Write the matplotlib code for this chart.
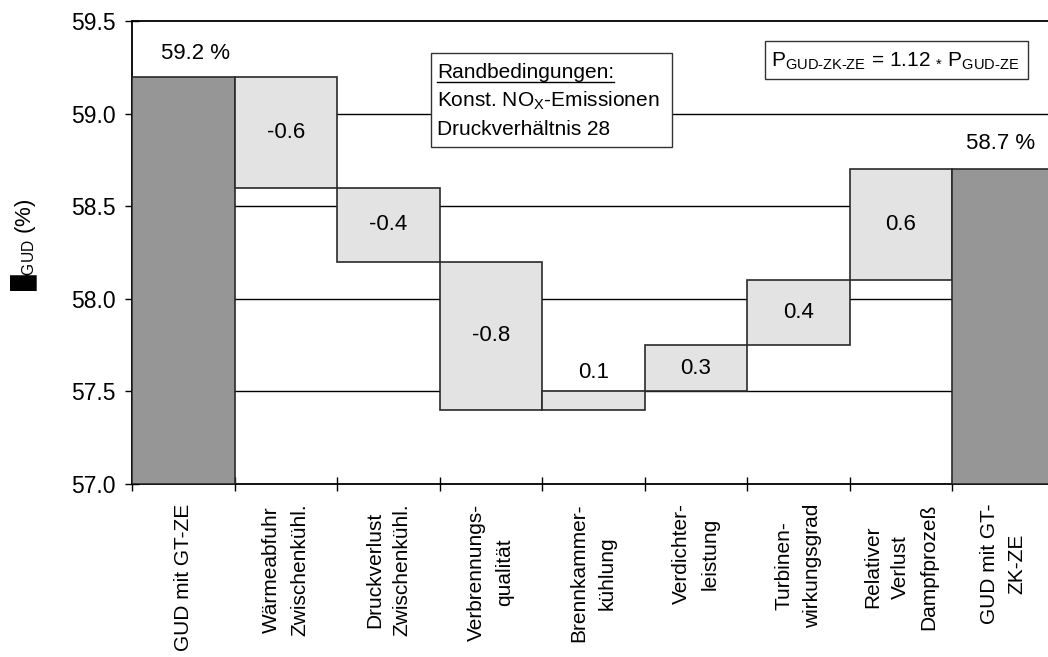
import matplotlib
matplotlib.use("Agg")
import matplotlib.pyplot as plt
from matplotlib.transforms import Affine2D
from matplotlib.patches import Rectangle
from matplotlib.lines import Line2D

plt.rcParams['font.family'] = ['Liberation Sans', 'DejaVu Sans']
plt.rcParams['mathtext.fontset'] = 'custom'
plt.rcParams['mathtext.rm'] = 'Liberation Sans'
plt.rcParams['mathtext.it'] = 'Liberation Sans:italic'
plt.rcParams['mathtext.bf'] = 'Liberation Sans:bold'
plt.rcParams['mathtext.sf'] = 'Liberation Sans'

# ---------------- data ----------------
categories = ["GUD mit GT-ZE", "Wärmeabfuhr\nZwischenkühl.", "Druckverlust\nZwischenkühl.",
              "Verbrennungs-\nqualität", "Brennkammer-\nkühlung", "Verdichter-\nleistung",
              "Turbinen-\nwirkungsgrad", "Relativer\nVerlust\nDampfprozeß", "GUD mit GT-\nZK-ZE"]
start_value = 59.2
deltas = [-0.6, -0.4, -0.8, 0.1, 0.25, 0.35, 0.6]
delta_labels = ["-0.6", "-0.4", "-0.8", "0.1", "0.3", "0.4", "0.6"]
yticks = [57.0, 57.5, 58.0, 58.5, 59.0, 59.5]

# ---------------- figure ----------------
W, H = 1048, 657
fig = plt.figure(figsize=(W / 100, H / 100), dpi=100)
px = Affine2D().scale(1 / W, -1 / H).translate(0, 1) + fig.transFigure

ax_left, ax_top, ax_bot = 132, 21, 484
cat_w = 102.5
ax = fig.add_axes([ax_left / W, 1 - ax_bot / H, 9 * cat_w / W, (ax_bot - ax_top) / H])

dark = '#969696'
light = '#e3e3e3'
edge = '#2a2a2a'

n = len(categories)
# start bar
ax.bar(0, start_value - yticks[0], bottom=yticks[0], width=1.0, color=dark,
       edgecolor=edge, linewidth=1.2, zorder=3)
level = start_value
for i, d in enumerate(deltas, start=1):
    lo, hi = min(level, level + d), max(level, level + d)
    ax.bar(i, hi - lo, bottom=lo, width=1.0, color=light, edgecolor=edge,
           linewidth=1.2, zorder=3)
    if hi - lo < 0.15:
        ax.annotate(delta_labels[i - 1], (i, hi), xytext=(0, 6), textcoords='offset points',
                    ha='center', va='bottom', fontsize=16, zorder=5)
    else:
        ax.text(i, (lo + hi) / 2, delta_labels[i - 1], ha='center', va='center',
                fontsize=16, zorder=5)
    level = level + d
end_value = level
ax.bar(n - 1, end_value - yticks[0], bottom=yticks[0], width=1.0, color=dark,
       edgecolor=edge, linewidth=1.2, zorder=3)

ax.annotate(f"{start_value:.1f} %", (0, start_value), xytext=(9, 9),
            textcoords='offset points', ha='center', va='bottom', fontsize=16)
ax.annotate(f"{end_value:.1f} %", (n - 1, end_value), xytext=(-2, 11),
            textcoords='offset points', ha='center', va='bottom', fontsize=16)

# grid
for yv in yticks[1:-1]:
    ax.axhline(yv, color='black', linewidth=1.0, zorder=1)

ax.set_xlim(-0.5, n - 0.5)
ax.set_ylim(yticks[0], yticks[-1])
ax.set_yticks(yticks)
ax.set_yticklabels([f"{v:.1f}" for v in yticks], fontsize=16.5)
ax.tick_params(axis='y', direction='inout', length=10, width=1.0, pad=7)

ax.set_xticks([i - 0.5 for i in range(n + 1)])
ax.set_xticklabels([])
ax.set_xticks(list(range(n)), minor=True)
labels = ax.set_xticklabels(categories, minor=True, rotation=90, fontsize=15, va='top',
                            ha='center', multialignment='center')
for lab in labels:
    lab.set_linespacing(1.6)
ax.tick_params(axis='x', which='major', direction='inout', length=10, width=1.0)
ax.tick_params(axis='x', which='minor', length=0, pad=14)

for s in ['left', 'bottom', 'top']:
    ax.spines[s].set_linewidth(1.3)
    ax.spines[s].set_color('black')
ax.spines['right'].set_visible(False)

ax.set_ylabel('█$_{\\text{GUD}}$ (%)', fontsize=16)
ax.yaxis.set_label_coords(-0.0997, 0.516)

# ---------------- annotation box 1 ----------------
fig.patches.append(Rectangle((431, 53), 241, 94, transform=px, fill=True,
                             facecolor='white', edgecolor='#333333', linewidth=1.0, zorder=5))
t_r = fig.text(437, 78, "Randbedingungen:", transform=px, fontsize=15,
               va='baseline', ha='left', zorder=6)
fig.text(437, 107, "Konst. NO$_{\\text{X}}$-Emissionen", transform=px, fontsize=15,
         va='baseline', ha='left', zorder=6)
fig.text(437, 135, "Druckverhältnis 28", transform=px, fontsize=15,
         va='baseline', ha='left', zorder=6)

# underline for "Randbedingungen:"
renderer = fig.canvas.get_renderer()
bb = t_r.get_window_extent(renderer)
uy = H - 81.5
fig.lines.append(Line2D([bb.x0 / W, bb.x1 / W], [uy / H, uy / H], transform=fig.transFigure,
                        color='black', linewidth=1.0, zorder=7))

# ---------------- annotation box 2 ----------------
fig.patches.append(Rectangle((765, 41), 263, 38, transform=px, fill=True,
                             facecolor='white', edgecolor='#333333', linewidth=1.0, zorder=5))
fig.text(771, 67, "P$_{\\text{GUD-ZK-ZE}}$ = 1.12 $_{\\text{*}}$ P$_{\\text{GUD-ZE}}$",
         transform=px, fontsize=15, va='baseline', ha='left', zorder=6)

fig.savefig("out.png", dpi=100)
